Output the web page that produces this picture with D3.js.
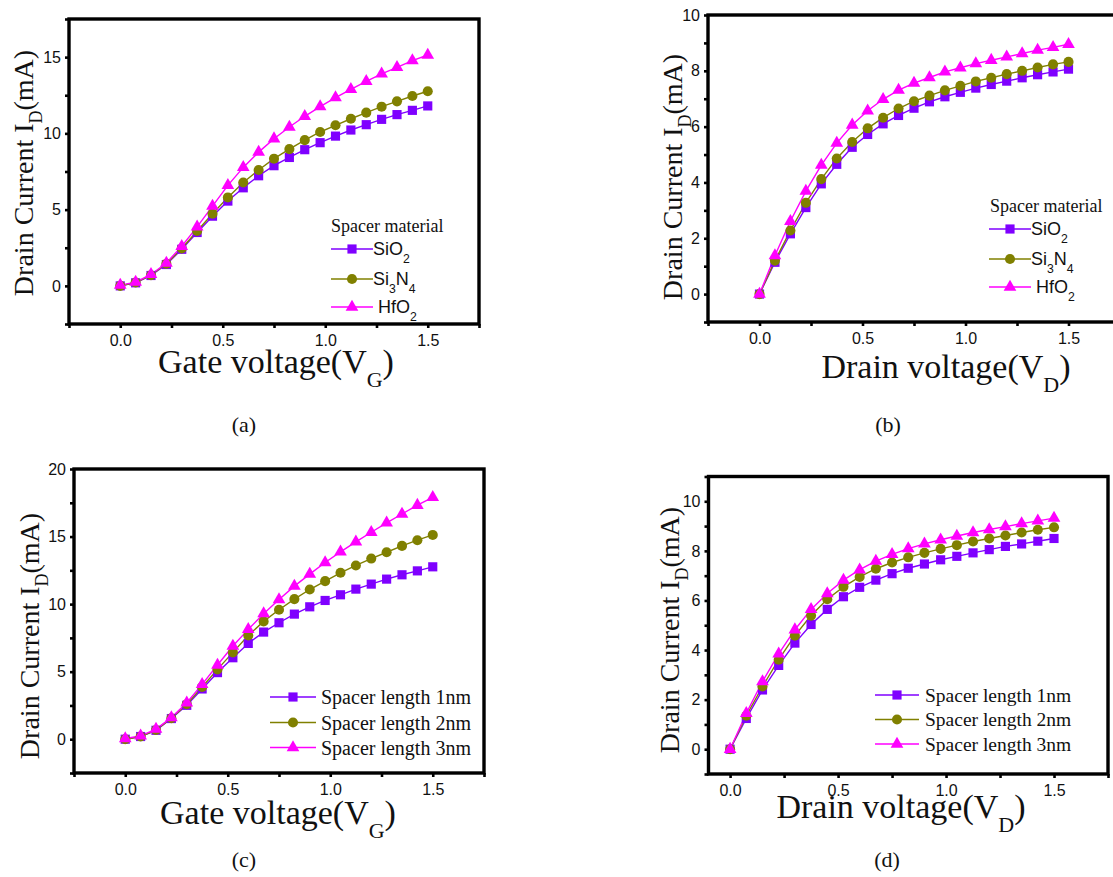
<!DOCTYPE html>
<html>
<head>
<meta charset="utf-8">
<script src="https://cdn.jsdelivr.net/npm/d3@7"></script>
<style>
  body { margin: 0; background: #fff; }
  svg { display: block; }
</style>
</head>
<body>
<svg id="fig" width="1113" height="877"></svg>
<script>
// Bias points (V) shared by every sweep
const voltage = [0, 0.075, 0.15, 0.225, 0.3, 0.375, 0.45, 0.525, 0.6, 0.675, 0.75,
                 0.825, 0.9, 0.975, 1.05, 1.125, 1.2, 1.275, 1.35, 1.425, 1.5];

// (a) Transfer characteristics, spacer material
const idVgSiO2  = [0, 0.2, 0.68, 1.4, 2.4, 3.5, 4.57, 5.56, 6.43, 7.22, 7.88,
                   8.42, 8.93, 9.39, 9.82, 10.22, 10.57, 10.92, 11.23, 11.51, 11.8];
const idVgSi3N4 = [0, 0.22, 0.7, 1.45, 2.45, 3.6, 4.73, 5.8, 6.78, 7.6, 8.34,
                   8.97, 9.56, 10.09, 10.53, 10.96, 11.36, 11.75, 12.1, 12.45, 12.76];
const idVgHfO2  = [0.05, 0.25, 0.75, 1.5, 2.6, 3.87, 5.23, 6.59, 7.77, 8.77, 9.65,
                   10.42, 11.12, 11.75, 12.34, 12.89, 13.41, 13.9, 14.33, 14.77, 15.14];

// (b) Output characteristics, spacer material
const idVdSiO2  = [0, 1.14, 2.16, 3.1, 3.95, 4.65, 5.26, 5.72, 6.1, 6.4, 6.66,
                   6.89, 7.07, 7.23, 7.38, 7.51, 7.63, 7.75, 7.86, 7.96, 8.06];
const idVdSi3N4 = [0, 1.2, 2.28, 3.27, 4.12, 4.86, 5.45, 5.94, 6.32, 6.65, 6.91,
                   7.11, 7.3, 7.46, 7.62, 7.75, 7.88, 8.0, 8.12, 8.23, 8.32];
const idVdHfO2  = [0, 1.38, 2.61, 3.69, 4.62, 5.41, 6.06, 6.57, 6.98, 7.31, 7.56,
                   7.76, 7.96, 8.11, 8.26, 8.38, 8.5, 8.62, 8.74, 8.84, 8.95];

// (c) Transfer characteristics, spacer length
const idVgLen1 = [0, 0.2, 0.66, 1.53, 2.51, 3.72, 4.93, 6.03, 7.09, 7.93, 8.62,
                  9.26, 9.8, 10.27, 10.69, 11.11, 11.48, 11.85, 12.17, 12.46, 12.76];
const idVgLen2 = [0, 0.2, 0.68, 1.55, 2.59, 3.87, 5.17, 6.43, 7.68, 8.72, 9.58,
                  10.37, 11.08, 11.7, 12.32, 12.86, 13.37, 13.84, 14.31, 14.73, 15.12];
const idVgLen3 = [0.05, 0.25, 0.75, 1.6, 2.7, 4.06, 5.49, 6.9, 8.13, 9.29, 10.34,
                  11.33, 12.22, 13.08, 13.87, 14.61, 15.32, 16.01, 16.67, 17.32, 17.9];

// (d) Output characteristics, spacer length
const idVdLen1 = [0, 1.24, 2.39, 3.38, 4.28, 5.03, 5.64, 6.15, 6.53, 6.82, 7.08,
                  7.3, 7.47, 7.64, 7.78, 7.92, 8.05, 8.18, 8.28, 8.39, 8.5];
const idVdLen2 = [0, 1.35, 2.53, 3.61, 4.58, 5.39, 6.05, 6.55, 6.95, 7.28, 7.53,
                  7.74, 7.92, 8.08, 8.23, 8.38, 8.5, 8.62, 8.74, 8.85, 8.95];
const idVdLen3 = [0, 1.45, 2.73, 3.85, 4.82, 5.64, 6.28, 6.82, 7.24, 7.59, 7.86,
                  8.09, 8.28, 8.45, 8.6, 8.74, 8.86, 8.98, 9.1, 9.21, 9.32];

// Legend labels; "sub" pieces are subscripts
const materialLabels = [
  [["Si"], ["O"], ["2", "sub"]],
  [["Si"], ["3", "sub"], ["N"], ["4", "sub"]],
  [["\u00A0HfO"], ["2", "sub"]]
];
const lengthLabels = ["Spacer length 1nm", "Spacer length 2nm", "Spacer length 3nm"];

// Tick values
const xMajor = [0, 0.5, 1.0, 1.5];
const xMinorWide = [-0.25, 0.25, 0.75, 1.25, 1.75];
const xMinorNarrow = [0.25, 0.75, 1.25, 1.75];
const yMajorA = [0, 5, 10, 15];
const yMinorA = [-2.5, 2.5, 7.5, 12.5, 17.5];
const yMajorB = [0, 2, 4, 6, 8, 10];
const yMinorB = [-1, 1, 3, 5, 7, 9];
const yMajorC = [0, 5, 10, 15, 20];
const yMinorC = [-2.5, 2.5, 7.5, 12.5, 17.5];
const yMajorD = [0, 2, 4, 6, 8, 10];
const yMinorD = [-1, 1, 3, 5, 7, 9, 11];

const COLORS = ["#7F00FF", "#808000", "#FF00FF"];
const SYMBOLS = [
  d3.symbol().type(d3.symbolSquare).size(84),
  d3.symbol().type(d3.symbolCircle).size(80),
  d3.symbol().type(d3.symbolTriangle).size(70)
];

const SERIF = "'Liberation Serif','Times New Roman',serif";
const SANS = "'Liberation Sans',Arial,sans-serif";

const svg = d3.select("#fig");

// Append label pieces as tspans, dropping subscripts below the baseline
function addRich(textSel, pieces, subSize) {
  let lowered = false;
  pieces.forEach(([t, kind]) => {
    const ts = textSel.append("tspan").text(t);
    if (kind === "sub") {
      ts.attr("font-size", subSize).attr("dy", (0.42 * subSize / 0.68) + "px");
      lowered = true;
    } else if (lowered) {
      ts.attr("dy", (-0.42 * subSize / 0.68) + "px");
      lowered = false;
    }
  });
}

function drawPanel(cfg) {
  const x = d3.scaleLinear().domain(cfg.xDomain).range([cfg.left, cfg.right]);
  const y = d3.scaleLinear().domain(cfg.yDomain).range([cfg.bottom, cfg.top]);
  const g = svg.append("g");

  const tickStyle = sel => {
    sel.select(".domain").remove();
    sel.selectAll(".tick line").attr("stroke", "#000").attr("stroke-width", 2.6);
    sel.selectAll(".tick text").attr("font-family", SANS).attr("font-size", 16).attr("fill", "#111");
  };

  // minor ticks
  g.append("g").attr("transform", `translate(0,${cfg.bottom})`)
    .call(d3.axisBottom(x).tickValues(cfg.xMinor).tickSize(4).tickFormat(""))
    .call(tickStyle);
  g.append("g").attr("transform", `translate(${cfg.left},0)`)
    .call(d3.axisLeft(y).tickValues(cfg.yMinor).tickSize(4).tickFormat(""))
    .call(tickStyle);
  // major ticks with labels
  g.append("g").attr("transform", `translate(0,${cfg.bottom})`)
    .call(d3.axisBottom(x).tickValues(xMajor).tickSize(4).tickPadding(7).tickFormat(d3.format(".1f")))
    .call(tickStyle);
  g.append("g").attr("transform", `translate(${cfg.left},0)`)
    .call(d3.axisLeft(y).tickValues(cfg.yMajor).tickSize(4).tickPadding(4).tickFormat(d3.format("d")))
    .call(tickStyle);

  // frame
  g.append("rect")
    .attr("x", cfg.left).attr("y", cfg.top)
    .attr("width", cfg.right - cfg.left).attr("height", cfg.bottom - cfg.top)
    .attr("fill", "none").attr("stroke", "#000").attr("stroke-width", 3.4);

  // series
  const line = d3.line().x((d, i) => x(voltage[i])).y(d => y(d));
  cfg.series.forEach((vals, k) => {
    g.append("path").datum(vals)
      .attr("d", line).attr("fill", "none")
      .attr("stroke", COLORS[k]).attr("stroke-width", 1.4);
  });
  cfg.series.forEach((vals, k) => {
    g.append("g").selectAll("path").data(vals).join("path")
      .attr("transform", (d, i) => `translate(${x(voltage[i])},${y(d)})`)
      .attr("d", SYMBOLS[k]).attr("fill", COLORS[k]);
  });

  // legend
  const L = cfg.legend;
  if (L.title) {
    g.append("text").attr("x", L.titleX).attr("y", L.titleY)
      .attr("font-family", SERIF).attr("font-size", L.titleSize).attr("fill", "#111")
      .text(L.title);
  }
  L.rows.forEach((ry, k) => {
    g.append("line").attr("x1", L.x1).attr("x2", L.x2).attr("y1", ry).attr("y2", ry)
      .attr("stroke", COLORS[k]).attr("stroke-width", 1.4);
    g.append("path").attr("transform", `translate(${(L.x1 + L.x2) / 2},${ry})`)
      .attr("d", SYMBOLS[k]).attr("fill", COLORS[k]);
    const t = g.append("text").attr("x", L.textX).attr("y", ry + L.size * 0.35)
      .attr("font-family", L.font).attr("font-size", L.size).attr("fill", "#111");
    const lab = L.labels[k];
    if (typeof lab === "string") t.text(lab);
    else addRich(t, lab, L.size * 0.68);
  });

  // axis titles
  const yt = g.append("text")
    .attr("transform", `translate(${cfg.yTitleX},${cfg.yTitleY}) rotate(-90)`)
    .attr("text-anchor", "middle").attr("font-family", SERIF)
    .attr("font-size", 28).attr("fill", "#111");
  yt.append("tspan").text("Drain Current I");
  yt.append("tspan").attr("font-size", 18).attr("dy", 9).text("D");
  yt.append("tspan").attr("dy", -9).text("(mA)");

  const xt = g.append("text")
    .attr("x", cfg.xTitleX).attr("y", cfg.xTitleY)
    .attr("text-anchor", "middle").attr("font-family", SERIF)
    .attr("font-size", 34).attr("fill", "#111");
  xt.append("tspan").text(cfg.xTitle + "(V");
  xt.append("tspan").attr("font-size", 22).attr("dy", 14).text(cfg.xSub);
  xt.append("tspan").attr("dy", -14).text(")");

  // panel caption
  svg.append("text").attr("x", cfg.capX).attr("y", cfg.capY)
    .attr("text-anchor", "middle").attr("font-family", SERIF)
    .attr("font-size", 22).attr("fill", "#111").text(cfg.caption);
}

drawPanel({
  left: 69, right: 479, top: 19, bottom: 324,
  xDomain: [-0.25, 1.75], yDomain: [-2.5, 17.5],
  xMinor: xMinorWide, yMajor: yMajorA, yMinor: yMinorA,
  series: [idVgSiO2, idVgSi3N4, idVgHfO2],
  legend: { title: "Spacer material", titleX: 331, titleY: 232, titleSize: 18,
            x1: 331, x2: 373, textX: 373, rows: [249, 279, 307],
            font: SANS, size: 18, labels: materialLabels },
  yTitleX: 33, yTitleY: 173, xTitle: "Gate voltage", xSub: "G",
  xTitleX: 276, xTitleY: 373, caption: "(a)", capX: 244, capY: 432
});

drawPanel({
  left: 708, right: 1120, top: 15, bottom: 322,
  xDomain: [-0.25, 1.75], yDomain: [-1, 10],
  xMinor: xMinorWide, yMajor: yMajorB, yMinor: yMinorB,
  series: [idVdSiO2, idVdSi3N4, idVdHfO2],
  legend: { title: "Spacer material", titleX: 990, titleY: 212, titleSize: 18,
            x1: 989, x2: 1031, textX: 1031, rows: [229, 259, 287],
            font: SANS, size: 18, labels: materialLabels },
  yTitleX: 682, yTitleY: 177, xTitle: "Drain voltage", xSub: "D",
  xTitleX: 946, xTitleY: 378, caption: "(b)", capX: 888, capY: 432
});

drawPanel({
  left: 74, right: 484, top: 469, bottom: 773,
  xDomain: [-0.25, 1.75], yDomain: [-2.5, 20],
  xMinor: xMinorWide, yMajor: yMajorC, yMinor: yMinorC,
  series: [idVgLen1, idVgLen2, idVgLen3],
  legend: { x1: 270, x2: 316, textX: 321, rows: [697, 722.5, 747.5],
            font: SERIF, size: 20, labels: lengthLabels },
  yTitleX: 39, yTitleY: 636, xTitle: "Gate voltage", xSub: "G",
  xTitleX: 278, xTitleY: 824, caption: "(c)", capX: 244, capY: 867
});

drawPanel({
  left: 708.5, right: 1108, top: 476.5, bottom: 774,
  xDomain: [-0.1, 1.75], yDomain: [-1, 11],
  xMinor: xMinorNarrow, yMajor: yMajorD, yMinor: yMinorD,
  series: [idVdLen1, idVdLen2, idVdLen3],
  legend: { x1: 875, x2: 919, textX: 925, rows: [695, 719.5, 744],
            font: SERIF, size: 19.5, labels: lengthLabels },
  yTitleX: 679, yTitleY: 630, xTitle: "Drain voltage", xSub: "D",
  xTitleX: 901, xTitleY: 818, caption: "(d)", capX: 887, capY: 867
});
</script>
</body>
</html>
